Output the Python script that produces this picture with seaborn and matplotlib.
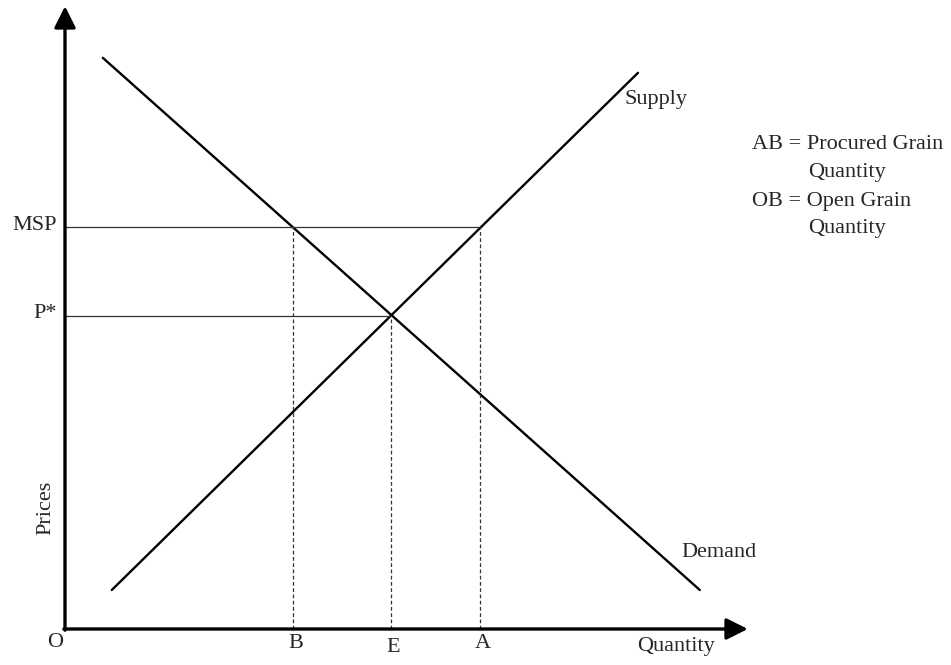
import numpy as np
import pandas as pd
import matplotlib.pyplot as plt
import seaborn as sns

# Curve end points (quantity, price) in chart units
demand_q = [6.3, 105.8]
demand_p = [95.2, 6.5]
supply_q = [7.8, 95.5]
supply_p = [6.5, 92.7]

# Price levels and quantity markers
price_labels = ["MSP", "P*"]
price_levels = [67.0, 52.2]
price_ends = [69.2, 54.3]          # where each price line stops (A, E)
qty_labels = ["B", "E", "A"]
qty_levels = [38.0, 54.3, 69.2]
qty_tops = [67.0, 52.2, 67.0]      # height of each dashed drop line

note_lines = ["AB = Procured Grain", "Quantity", "OB = Open Grain", "Quantity"]

sns.set_theme(style="white")
plt.rcParams["font.family"] = ["Liberation Serif", "DejaVu Serif"]

fig = plt.figure(figsize=(9.51, 6.65), dpi=100)
ax = fig.add_axes([0, 0, 1, 1])
ax.set_xlim(-65 / 6, (951 - 65) / 6)
ax.set_ylim(-(665 - 629) / 6, 629 / 6)
ax.axis("off")

curves = pd.DataFrame({
    "q": demand_q + supply_q,
    "p": demand_p + supply_p,
    "curve": ["Demand"] * 2 + ["Supply"] * 2,
})
sns.lineplot(data=curves, x="q", y="p", units="curve", estimator=None,
             color="black", lw=1.7, sort=False, ax=ax, legend=False)

# horizontal price lines
for lvl, end in zip(price_levels, price_ends):
    ax.plot([0, end], [lvl, lvl], color="#333333", lw=0.9)
# dashed drop lines
for q, top in zip(qty_levels, qty_tops):
    ax.plot([q, q], [0, top], color="#333333", lw=0.9, ls=(0, (3, 2)))

# axes with arrows
arrow = dict(arrowstyle="-|>,head_length=1.0,head_width=0.5", color="black",
             lw=2.4, mutation_scale=13, shrinkA=0, shrinkB=0)
ax.annotate("", xy=(0, 103.8), xytext=(0, -0.2), arrowprops=arrow)
ax.annotate("", xy=(113.8, 0), xytext=(-0.2, 0), arrowprops=arrow)

fs = 16
for lab, lvl in zip(price_labels, price_levels):
    ax.text(-1.3, lvl + 0.3, lab, ha="right", va="center", fontsize=fs)
ax.text(-1.7, -2.2, "O", ha="center", va="center", fontsize=fs)
for lab, q, dy in zip(qty_labels, qty_levels, [-2.4, -3.0, -2.5]):
    ax.text(q + 0.4, dy, lab, ha="center", va="center", fontsize=fs)
ax.text(101.9, -3.0, "Quantity", ha="center", va="center", fontsize=fs)
ax.text(-3.2, 20.2, "Prices", ha="center", va="center", rotation=90, fontsize=fs)
ax.text(93.3, 88.2, "Supply", ha="left", va="center", fontsize=fs)
ax.text(102.8, 12.8, "Demand", ha="left", va="center", fontsize=fs)

note_x = [114.5, 123.8, 114.5, 123.8]
note_y = [80.7, 76.0, 71.2, 66.8]
for txt, x, y in zip(note_lines, note_x, note_y):
    ax.text(x, y, txt, ha="left", va="center", fontsize=fs)

fig.savefig("out.png", dpi=100)
